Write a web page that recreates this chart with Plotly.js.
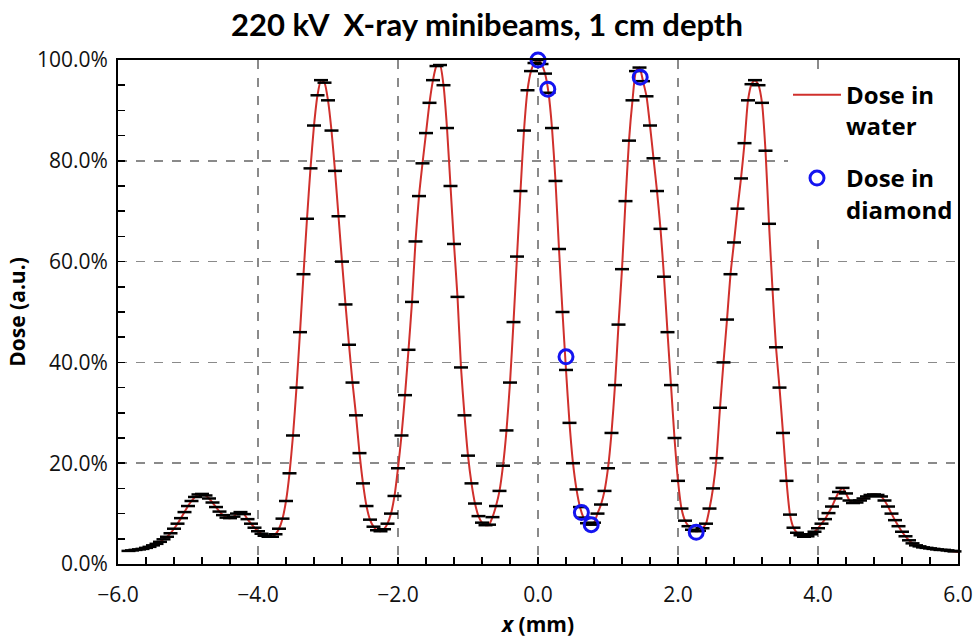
<!DOCTYPE html>
<html>
<head>
<meta charset="utf-8">
<script src="https://cdn.plot.ly/plotly-3.0.1.min.js"></script>
<style>html,body{margin:0;padding:0;background:#fff;}#chart{width:974px;height:638px;}</style>
</head>
<body>
<div id="chart"></div>
<script>
// Dose in water (Monte Carlo profile), x from -5.85 mm in 0.05 mm steps
var waterStartX = -5.85;
var waterStepX = 0.05;
var waterDose = [
  2.6,2.7,2.8,2.9,3.0,3.2,3.4,3.7,4.0,4.4,
  4.9,5.4,6.1,7.0,8.0,9.1,10.3,11.5,12.5,13.3,
  13.8,13.9,13.6,13.0,12.2,11.3,10.4,9.7,9.2,9.1,
  9.4,10.0,10.3,9.9,8.9,8.0,7.2,6.5,6.0,5.6,
  5.4,
  5.4,5.9,7.0,9.0,12.5,18.0,25.5,35.0,46.0,57.5,
  68.5,78.5,87.0,93.0,96.0,95.5,92.0,86.0,78.0,69.0,
  60.0,51.5,43.5,36.0,29.5,22.0,16.0,11.5,8.8,7.4,
  6.7,6.5,
  6.9,8.0,10.0,13.5,19.0,25.5,33.5,42.5,52.0,64.0,
  73.0,79.5,85.5,91.5,96.0,98.8,99.0,95.0,86.5,75.0,
  63.5,53.0,39.0,29.5,21.5,16.0,12.0,9.5,8.2,7.7,
  7.8,9.3,11.5,14.5,19.5,26.5,36.0,48.0,61.0,74.0,
  86.0,94.0,97.8,99.4,100.0,99.2,97.3,93.5,86.5,76.0,
  62.5,50.0,38.5,28.0,20.0,14.8,11.3,9.2,8.1,7.8,
  8.2,10.0,11.8,14.5,19.0,26.0,35.5,47.5,58.5,72.0,
  84.0,92.0,97.8,98.5,95.8,92.8,87.0,80.5,74.0,66.5,
  57.0,46.0,35.5,25.0,16.5,11.0,8.6,7.5,6.8,6.5,
  6.6,7.1,8.0,11.0,15.0,21.0,31.0,40.0,48.5,57.5,
  63.8,70.5,76.5,83.5,92.0,95.2,96.0,95.0,91.5,82.0,
  67.5,54.5,43.0,35.0,26.0,16.5,9.8,7.2,6.2,5.7,
  5.4,
  5.5,5.9,6.4,7.1,8.0,8.9,10.1,11.4,13.0,14.3,
  15.1,14.0,12.6,12.1,12.2,12.6,13.0,13.4,13.7,13.8,
  13.7,13.4,12.6,11.4,10.0,8.7,7.5,6.4,5.5,4.7,
  4.1,3.7,3.5,3.3,3.2,3.1,3.0,2.9,2.8,2.8,
  2.7,2.6,2.5,2.4
];

// Dose in diamond (measured points)
var diamondX = [0.0, 0.14, 0.40, 0.62, 0.76, 1.46, 2.26];
var diamondDose = [100.0, 94.2, 41.1, 10.2, 7.8, 96.6, 6.3];

var titleText = '220 kV&nbsp; X-ray minibeams, 1 cm depth';
var xTitle = '<i>x</i> (mm)';
var yTitle = 'Dose (a.u.)';
var waterName = 'Dose in<br>water';
var diamondName = 'Dose in<br>diamond';

var traces = [
  {
    type: 'scatter', mode: 'lines', name: waterName, legendgroup: 'water',
    x0: waterStartX, dx: waterStepX, y: waterDose,
    line: {color: '#d0302c', width: 2, shape: 'spline', smoothing: 0.6},
    hoverinfo: 'skip'
  },
  {
    type: 'scatter', mode: 'markers', name: 'water points', showlegend: false, legendgroup: 'water',
    x0: waterStartX, dx: waterStepX, y: waterDose,
    marker: {symbol: 'line-ew', size: 10, color: '#000', line: {color: '#000', width: 2.5}},
    cliponaxis: false, hoverinfo: 'skip'
  },
  {
    type: 'scatter', mode: 'markers', name: diamondName, legendgroup: 'diamond',
    x: diamondX, y: diamondDose,
    marker: {symbol: 'circle-open', size: 14, color: '#1414f0', line: {color: '#1414f0', width: 3}},
    cliponaxis: false
  }
];

var layout = {
  width: 974, height: 638,
  paper_bgcolor: '#fff', plot_bgcolor: '#fff',
  margin: {l: 118, r: 16, t: 60, b: 74},
  font: {family: '"Open Sans", sans-serif', color: '#000'},
  title: {
    text: titleText, xref: 'container', x: 0.5, xanchor: 'center',
    yref: 'container', y: 0.961, yanchor: 'middle',
    font: {family: 'Lato, sans-serif', size: 31, weight: 'bold', color: '#000'}
  },
  xaxis: {
    range: [-6, 6], dtick: 2, tick0: 0, tickformat: '.1f',
    ticks: 'inside', ticklen: 7, tickwidth: 1.5, tickcolor: '#000',
    minor: {dtick: 0.4, tick0: 0, ticks: 'inside', ticklen: 7, tickwidth: 1.5, tickcolor: '#000', showgrid: false},
    showline: true, linecolor: '#000', linewidth: 2, mirror: true,
    showgrid: true, gridcolor: '#8a8a8a', gridwidth: 1.5, griddash: 'dash',
    zeroline: false,
    tickfont: {family: '"Open Sans", sans-serif', size: 21, color: '#111'},
    ticklabelstandoff: 11,
    title: {text: xTitle, standoff: 13, font: {family: '"Open Sans", sans-serif', size: 21, weight: 'bold', color: '#000'}}
  },
  yaxis: {
    range: [0, 100], dtick: 20, tick0: 0, tickformat: '.1f', ticksuffix: '%',
    ticks: 'inside', ticklen: 7, tickwidth: 1.5, tickcolor: '#000',
    minor: {dtick: 5, tick0: 0, ticks: 'inside', ticklen: 7, tickwidth: 1.5, tickcolor: '#000', showgrid: false},
    showline: true, linecolor: '#000', linewidth: 2, mirror: true,
    showgrid: true, gridcolor: '#8a8a8a', gridwidth: 1.5, griddash: 'dash',
    zeroline: false,
    tickfont: {family: '"Open Sans", sans-serif', size: 21, color: '#111'},
    ticklabelstandoff: 4,
    title: {text: yTitle, standoff: 6, font: {family: '"Open Sans", sans-serif', size: 21, weight: 'bold', color: '#000'}}
  },
  showlegend: true,
  legend: {
    x: 1, xanchor: 'right', y: 0.975, yanchor: 'top',
    bgcolor: '#fff', borderwidth: 0, valign: 'top', itemwidth: 48,
    font: {family: '"Open Sans", sans-serif', size: 24, weight: 'bold', color: '#000'},
    tracegroupgap: 18
  }
};

Plotly.newPlot('chart', traces, layout, {displayModeBar: false, staticPlot: true});
</script>
</body>
</html>
